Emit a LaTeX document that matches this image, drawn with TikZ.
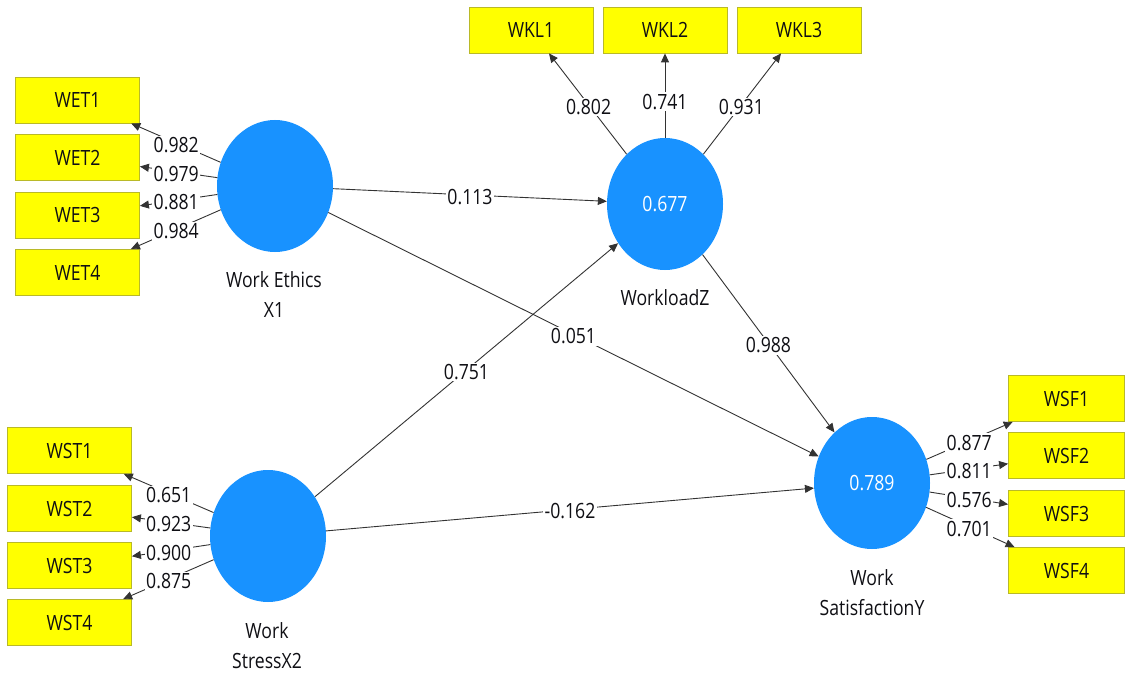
\documentclass[tikz,border=0pt]{standalone}
\usepackage{fontspec}
\setmainfont{Open Sans}[FakeStretch=0.84]
\usetikzlibrary{shapes.geometric,arrows.meta,calc}
\definecolor{lvblue}{RGB}{24,146,255}
\definecolor{mvyellow}{RGB}{255,255,0}
\definecolor{mvborder}{RGB}{185,185,40}
\definecolor{txt}{RGB}{15,15,20}
\newcommand{\diagfont}{\fontsize{21}{30}\selectfont}
\begin{document}
\begin{tikzpicture}[x=1pt,y=-1pt,
  lv/.style={ellipse, fill=lvblue, minimum width=116pt, minimum height=132pt, inner sep=0pt, text=white, font=\diagfont},
  mv/.style={rectangle, fill=mvyellow, draw=mvborder, line width=0.8pt, minimum width=124pt, minimum height=46pt, inner sep=0pt, font=\diagfont, text=txt},
  mvr/.style={mv, minimum width=116pt},
  arr/.style={draw=black!80, line width=0.9pt, -{Triangle[length=9pt,width=8pt]}},
  lbl/.style={fill=white, inner sep=1.5pt, font=\diagfont, text=txt, yshift=-2pt},
  captxt/.style={align=center, font=\diagfont, text=txt, inner sep=0pt}
]
\fill[white] (0,0) rectangle (1125,674);
\useasboundingbox (0,0) rectangle (1125,674);

% latent variables
\node[lv] (WE) at (275,186) {};
\node[lv] (WZ) at (665,204) {0.677};
\node[lv] (WS) at (268,536) {};
\node[lv] (WY) at (872,483) {0.789};

% captions
\node[captxt] (WEc) at (274,295) {Work Ethics\\X1};
\node[captxt] (WZc) at (665,298) {WorkloadZ};
\node[captxt] (WSc) at (267,646) {Work\\StressX2};
\node[captxt] (WYc) at (872,593) {Work\\SatisfactionY};

% indicators
\node[mv] (WET1) at (77.5,100) {WET1};
\node[mv] (WET2) at (77.5,157.5) {WET2};
\node[mv] (WET3) at (77.5,215) {WET3};
\node[mv] (WET4) at (77.5,272.5) {WET4};
\node[mv] (WST1) at (69.5,450.5) {WST1};
\node[mv] (WST2) at (69.5,508.5) {WST2};
\node[mv] (WST3) at (69.5,565.5) {WST3};
\node[mv] (WST4) at (69.5,622.5) {WST4};
\node[mv] (WKL1) at (531,30) {WKL1};
\node[mv] (WKL2) at (665,30) {WKL2};
\node[mv] (WKL3) at (799,30) {WKL3};
\node[mvr] (WSF1) at (1066.5,398.5) {WSF1};
\node[mvr] (WSF2) at (1066.5,455.5) {WSF2};
\node[mvr] (WSF3) at (1066.5,513.5) {WSF3};
\node[mvr] (WSF4) at (1066.5,570.5) {WSF4};

% outer loadings
\foreach \i in {1,2,3,4} {\draw[arr] (WE) -- (WET\i);}
\foreach \i in {1,2,3,4} {\draw[arr] (WS) -- (WST\i);}
\foreach \i in {1,2,3} {\draw[arr] (WZ) -- (WKL\i);}
\foreach \i in {1,2,3,4} {\draw[arr] (WY) -- (WSF\i);}

% structural paths
\draw[arr] (WE) -- (WZ);
\draw[arr] (WE) -- (WY);
\draw[arr] (WS) -- (WZ);
\draw[arr] (WZ) -- (WY);
\draw[arr] (WS) -- (WY);

% loading labels
\node[lbl] (l1) at ($(WE.center)!0.5!(WET1.center)$) {0.982};
\node[lbl] (l2) at ($(WE.center)!0.5!(WET2.center)$) {0.979};
\node[lbl] (l3) at ($(WE.center)!0.5!(WET3.center)$) {0.881};
\node[lbl] (l4) at ($(WE.center)!0.5!(WET4.center)$) {0.984};
\node[lbl] (l5) at ($(WS.center)!0.5!(WST1.center)$) {0.651};
\node[lbl] (l6) at ($(WS.center)!0.5!(WST2.center)$) {0.923};
\node[lbl] (l7) at ($(WS.center)!0.5!(WST3.center)$) {0.900};
\node[lbl] (l8) at ($(WS.center)!0.5!(WST4.center)$) {0.875};
\node[lbl] (l9) at ($(WZ.center)!0.57!(WKL1.center)$) {0.802};
\node[lbl] (l10) at ($(WZ.center)!0.6!(WKL2.center)$) {0.741};
\node[lbl] (l11) at ($(WZ.center)!0.57!(WKL3.center)$) {0.931};
\node[lbl] (l12) at ($(WY.center)!0.5!(WSF1.center)$) {0.877};
\node[lbl] (l13) at ($(WY.center)!0.5!(WSF2.center)$) {0.811};
\node[lbl] (l14) at ($(WY.center)!0.5!(WSF3.center)$) {0.576};
\node[lbl] (l15) at ($(WY.center)!0.5!(WSF4.center)$) {0.701};

% path coefficient labels
\node[lbl] (p1) at ($(WE.center)!0.5!(WZ.center)$) {0.113};
\node[lbl] (p2) at ($(WE.center)!0.5!(WY.center)$) {0.051};
\node[lbl] (p3) at ($(WS.center)!0.5!(WZ.center)$) {0.751};
\node[lbl] (p4) at ($(WZ.center)!0.5!(WY.center)$) {0.988};
\node[lbl] (p5) at ($(WS.center)!0.5!(WY.center)$) {-0.162};
\end{tikzpicture}
\end{document}
